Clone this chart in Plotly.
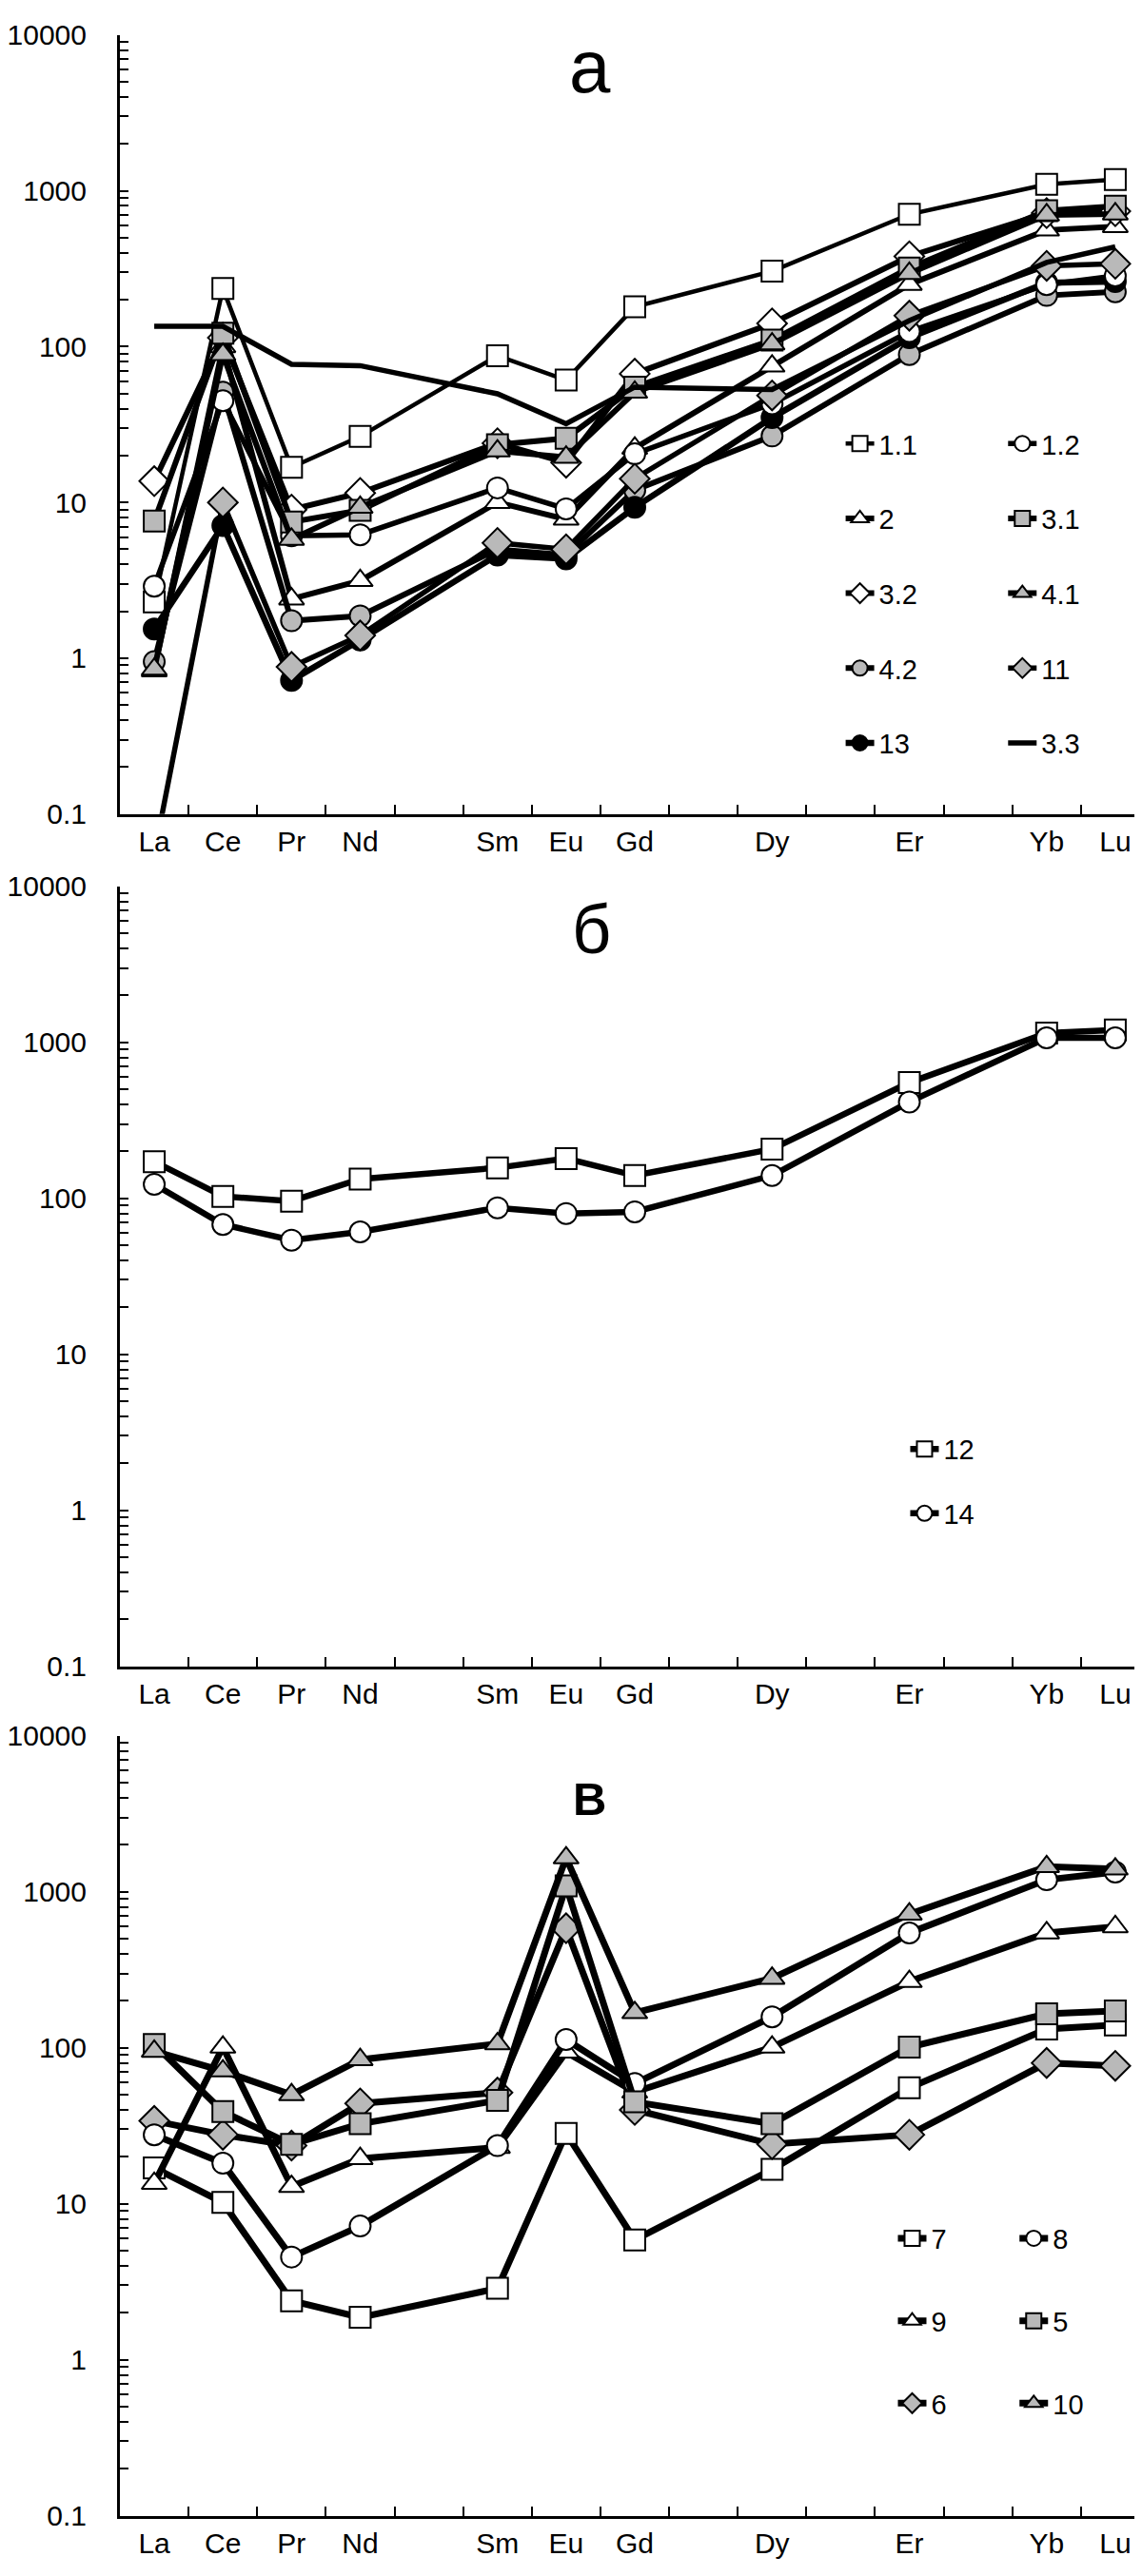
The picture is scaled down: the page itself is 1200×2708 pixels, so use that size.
import plotly.graph_objects as go

# ---------------- data ----------------
elements = ["La", "Ce", "Pr", "Nd", "Pm", "Sm", "Eu", "Gd", "Tb", "Dy", "Ho", "Er", "Tm", "Yb", "Lu"]
tick_labels = ["La", "Ce", "Pr", "Nd", "", "Sm", "Eu", "Gd", "", "Dy", "", "Er", "", "Yb", "Lu"]
measured = ["La", "Ce", "Pr", "Nd", "Sm", "Eu", "Gd", "Dy", "Er", "Yb", "Lu"]

# panel а
s1_1 = [2.3, 236, 16.8, 26.5, 87.5, 61, 180, 305, 707, 1100, 1180]
s1_2 = [2.9, 45, 6.1, 6.2, 12.4, 9.1, 20.5, 43, 125, 250, 285]
s2 = [0.83, 100, 2.4, 3.15, 10, 7.8, 22.3, 75, 251, 560, 590]
s3_1 = [7.6, 122, 7.5, 8.9, 23.5, 25.8, 55, 110, 320, 745, 798]
s3_2 = [13.7, 114, 9.0, 11.5, 24, 18, 67, 141, 380, 720, 740]
s4_1 = [0.85, 89, 5.8, 9.3, 21.4, 19.5, 51, 104, 295, 700, 710]
s4_2 = [0.95, 51, 1.74, 1.87, 5.0, 4.6, 12, 26.7, 89, 213, 225]
s11 = [0.055, 10, 0.88, 1.4, 5.5, 5.0, 14.2, 48.6, 158, 330, 340]
s13 = [1.54, 7.1, 0.72, 1.31, 4.6, 4.35, 9.3, 35, 114, 257, 262]
s3_3 = [135, 135, 77, 75.5, 49.8, 32, 55, 53, 147, 347, 437]

# panel б
s12 = [172, 103, 96, 133, 157, 180, 140, 207, 552, 1148, 1200]
s14 = [123, 68, 54, 61, 87, 80, 82, 140, 415, 1070, 1070]

# panel в
s7 = [17, 10.2, 2.39, 1.87, 2.87, 28.3, 5.87, 16.6, 55.4, 132, 140]
s8 = [27.7, 18.2, 4.56, 7.2, 23.6, 113, 59, 158, 545, 1195, 1340]
s9 = [13.5, 101, 12.9, 19.5, 23, 94, 52, 101, 266, 545, 597]
s5 = [105, 39, 24, 32.6, 46, 1090, 45, 32.6, 101, 165, 172]
s6 = [34, 27.7, 23.6, 44, 51.6, 584, 40, 24.1, 27.7, 80, 76.6]
s10 = [95, 71, 50, 84, 106, 1650, 168, 279, 720, 1450, 1400]

y_tick_vals = [0.1, 1, 10, 100, 1000, 10000]
y_tick_text = ["0.1", "1", "10", "100", "1000", "10000"]

# ---------------- styling ----------------
W, H = 1200, 2708
ML = 116                      # left margin (px); plot area spans ML..W
PW = W - ML
FONT = "Liberation Sans, Arial, sans-serif"
GRAY = "#b9b9b9"
xs = [elements.index(e) for e in measured]

# (name, values, symbol, fill, panel, legend, line width)
series = [
    ("1.1", s1_1, "square", "white", 1, "legend", 4.5),
    ("2", s2, "triangle-up", "white", 1, "legend", 6),
    ("3.2", s3_2, "diamond", "white", 1, "legend", 6),
    ("4.2", s4_2, "circle", GRAY, 1, "legend", 6),
    ("13", s13, "circle", "black", 1, "legend", 6.5),
    ("1.2", s1_2, "circle", "white", 1, "legend2", 5.5),
    ("3.1", s3_1, "square", GRAY, 1, "legend2", 6),
    ("4.1", s4_1, "triangle-up", GRAY, 1, "legend2", 6),
    ("11", s11, "diamond", GRAY, 1, "legend2", 5.5),
    ("3.3", s3_3, None, None, 1, "legend2", 5.5),
    ("12", s12, "square", "white", 2, "legend3", 6.5),
    ("14", s14, "circle", "white", 2, "legend3", 6.5),
    ("7", s7, "square", "white", 3, "legend4", 7),
    ("9", s9, "triangle-up", "white", 3, "legend4", 7),
    ("6", s6, "diamond", GRAY, 3, "legend4", 7),
    ("8", s8, "circle", "white", 3, "legend5", 7),
    ("5", s5, "square", GRAY, 3, "legend5", 7),
    ("10", s10, "triangle-up", GRAY, 3, "legend5", 7),
]
sym_size = {"square": 22, "circle": 22, "triangle-up": 23, "diamond": 24}

fig = go.Figure()
for name, vals, sym, fill, panel, leg, lw in series:
    ax = "" if panel == 1 else str(panel)
    kw = {}
    if sym is None:
        mode = "lines"
    else:
        mode = "lines+markers"
        kw["marker"] = dict(symbol=sym, size=sym_size[sym], color=fill,
                            line=dict(color="black", width=2))
    fig.add_trace(go.Scatter(
        x=xs, y=vals, name=name, mode=mode,
        line=dict(color="black", width=lw),
        xaxis="x" + ax, yaxis="y" + ax,
        legend=leg, legendgroup=name, **kw))

# pixel geometry of the three panels (top, bottom)
panels = [(13, 842), (919, 1749), (1823, 2653)]

minor_y = [m * 10 ** k for k in range(-1, 4) for m in range(2, 10)]

layout = dict(
    width=W, height=H,
    margin=dict(l=ML, r=0, t=0, b=0),
    paper_bgcolor="white", plot_bgcolor="white",
    font=dict(family=FONT, size=30, color="black"),
    showlegend=True,
)
for i, (top, bot) in enumerate(panels, start=1):
    suf = "" if i == 1 else str(i)
    layout["xaxis" + suf] = dict(
        domain=[0, 1], anchor="y" + suf, range=[-0.5, 14.5],
        tickmode="array", tickvals=list(range(len(elements))), ticktext=tick_labels,
        ticks="", showgrid=False, zeroline=False,
        showline=True, linecolor="black", linewidth=3,
        ticklabelstandoff=0,
        tickfont=dict(family=FONT, size=30, color="black"),
        minor=dict(tickmode="array", tickvals=[k + 0.5 for k in range(len(elements) - 1)],
                   ticks="inside", ticklen=10, tickwidth=2, tickcolor="black", showgrid=False),
    )
    layout["yaxis" + suf] = dict(
        domain=[1 - bot / H, 1 - top / H], anchor="x" + suf,
        type="log", range=[-1, 4],
        tickmode="array", tickvals=y_tick_vals, ticktext=y_tick_text,
        ticks="inside", ticklen=9, tickwidth=2, tickcolor="black",
        showgrid=False, zeroline=False,
        showline=True, linecolor="black", linewidth=3,
        ticklabelstandoff=26,
        tickfont=dict(family=FONT, size=30, color="black"),
        minor=dict(tickmode="array", tickvals=minor_y, ticks="inside", ticklen=9,
                   tickwidth=2, tickcolor="black", showgrid=False),
    )

def leg(x_px, top_px, gap, size=29):
    return dict(x=(x_px - ML) / PW, y=1 - top_px / H, xanchor="left", yanchor="top",
                bgcolor="rgba(0,0,0,0)", borderwidth=0, tracegroupgap=gap,
                font=dict(family=FONT, size=size, color="black"),
                itemsizing="trace")

layout["legend"] = leg(875, 422, 38)
layout["legend2"] = leg(1046, 422, 38)
layout["legend3"] = leg(943, 1492, 27)
layout["legend4"] = leg(930, 2332, 46)
layout["legend5"] = leg(1058, 2332, 46)

def px_x(px):
    return (px - ML) / PW

layout["annotations"] = [
    dict(text="а", x=px_x(611), y=1, xref="paper", yref="paper",
         xanchor="center", yanchor="top", showarrow=False,
         font=dict(family=FONT, size=78, color="black")),
    dict(text="б", x=px_x(612), y=1 - 965 / H, xref="paper", yref="paper",
         xanchor="center", yanchor="middle", showarrow=False,
         font=dict(family=FONT, size=72, color="black")),
    dict(text="<b>В</b>", x=px_x(610), y=1 - 1890 / H, xref="paper", yref="paper",
         xanchor="center", yanchor="middle", showarrow=False,
         font=dict(family=FONT, size=49, color="black")),
]

fig.update_layout(**layout)
fig.write_html("out.html")
